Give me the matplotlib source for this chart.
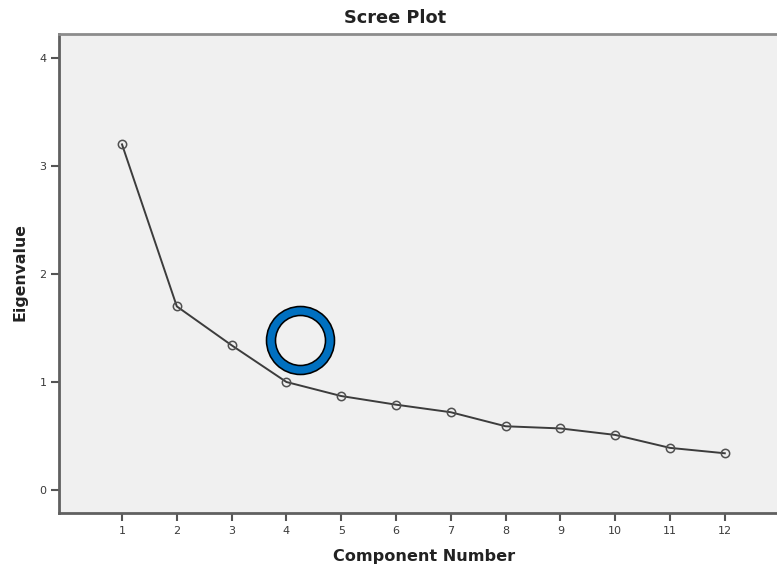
import matplotlib
matplotlib.use("Agg")
import matplotlib.pyplot as plt

components = [1, 2, 3, 4, 5, 6, 7, 8, 9, 10, 11, 12]
eigenvalues = [3.20, 1.70, 1.34, 1.00, 0.87, 0.79, 0.72, 0.59, 0.57, 0.51, 0.39, 0.34]
yticks = [0, 1, 2, 3, 4]
highlight = (4.25, 1.39)

plt.rcParams['font.family'] = ['DejaVu Sans']

W, H = 777, 569
fig = plt.figure(figsize=(W / 100, H / 100), dpi=100)
ax = fig.add_axes([59 / W, 1 - 513 / H, (807 - 59) / W, (513 - 34) / H])
ax.set_facecolor('#f0f0f0')

ax.plot(components, eigenvalues, color='#3c3c3c', lw=1.4, marker='o', ms=6,
        mfc='none', mec='#505050', mew=1.1, zorder=3)

px = 72 / 100
hx, hy = highlight
ax.plot([hx], [hy], 'o', ms=59 * px, mfc='none', mec='#0070c0', mew=9 * px, zorder=4)
ax.plot([hx], [hy], 'o', ms=68 * px, mfc='none', mec='black', mew=1.6 * px, zorder=5)
ax.plot([hx], [hy], 'o', ms=50 * px, mfc='none', mec='black', mew=1.6 * px, zorder=5)

ax.set_xlim(-0.15, 13.5)
ax.set_ylim(-0.213, 4.222)
ax.set_xticks(components)
ax.set_yticks(yticks)
ax.tick_params(axis='both', direction='out', length=6, width=1.5, color='#555555',
               labelsize=8, labelcolor='#3a3a3a', pad=3)

for s in ['left', 'bottom']:
    ax.spines[s].set_color('#606060')
    ax.spines[s].set_linewidth(2)
ax.spines['top'].set_color('#8c8c8c')
ax.spines['top'].set_linewidth(2)
ax.spines['right'].set_visible(False)

fig.text(395 / W, 1 - 18 / H, 'Scree Plot', ha='center', va='center',
         fontsize=12.8, fontweight='bold', color='#222222')
fig.text(424 / W, 1 - 557 / H, 'Component Number', ha='center', va='center',
         fontsize=11.6, fontweight='bold', color='#222222')
fig.text(20 / W, 1 - 272 / H, 'Eigenvalue', ha='center', va='center', rotation=90,
         fontsize=11.3, fontweight='bold', color='#222222')

fig.savefig('out.png', dpi=100)
